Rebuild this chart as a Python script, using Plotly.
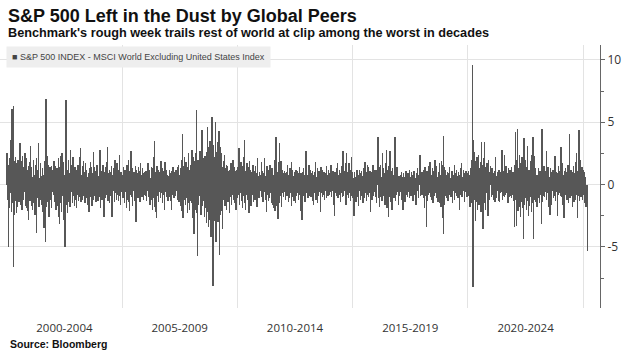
import plotly.graph_objects as go
import pandas as pd

# Weekly difference (pct pts): S&P 500 INDEX minus MSCI World ex-US, week ending Fridays
w2000 = [2.5, -1.2, 0.8, -5.0, 1.6, -1.9, 2.1, -0.7, 1.2, 3.6, -2.2, 6.1, -1.5, 2.4, -6.6, 6.3, -2.4, 1.9, -1.3, 2.2, 0.9, -2.3, 1.7, -1.1, -1.8, 2.0, 0.6, -1.4, 1.3, 3.3, -1.6, 0.9, -0.8, 1.9, -2.0, 2.3, -1.2, 1.4, -0.6, 1.1, 2.5, -1.7, 0.7, 2.1, -1.9, 1.2, -2.1, 0.8, -2.8, 1.5, -1.0, 1.8]
w2001 = [-1.3, 3.1, -0.9, 1.4, -1.7, 0.6, -2.0, 2.0, 1.1, -1.5, 0.8, -2.4, 1.6, -0.7, 2.1, -3.9, 1.2, -1.1, 0.9, 3.3, -1.8, 0.5, -1.2, 1.7, 1.5, -0.9, 0.7, -1.6, 1.3, -2.2, 0.8, -3.5, 1.9, -1.0, 0.6, -4.6, 6.9, -1.8, 2.3, -1.4, 1.1, -0.8, 1.6, -2.6, 0.9, 1.4, -1.2, 0.7, 1.5, -1.9, 1.1, -0.6]
w2002 = [1.2, -0.8, 1.9, -1.4, 0.7, -1.1, 1.5, -2.0, 0.9, 1.3, -1.7, 0.6, 2.1, -2.6, 1.0, -3.2, 1.4, -1.5, 2.3, -2.2, 2.5, -0.9, 1.8, -2.8, 1.1, -1.9, 0.8, -5.0, 2.4, 6.8, -1.6, 1.7, -2.3, 1.2, -0.7, 2.0, -1.4, 0.9, -1.8, 2.8, -1.1, 1.6, -0.6, 1.3, -1.5, 2.2, -0.9, 1.0, -1.7, 0.8, 1.4, -1.2]
w2003 = [0.9, -1.9, 1.2, -0.8, 1.6, -1.3, 0.6, 1.1, -1.0, 2.2, 2.9, -1.4, 0.8, -0.6, 1.5, -1.2, 0.7, 1.9, -0.9, 1.0, -1.5, 0.5, 1.7, -0.7, 1.2, -1.1, 0.6, -1.6, 0.9, -2.2, 1.3, -0.8, 1.8, -1.0, 0.7, 1.4, -1.7, 0.9, -0.5, 2.6, -1.2, 0.8, 1.4, -0.9, 1.1, -1.4, 0.6, 1.6, -0.8, 1.0, -1.3, 0.7]
w2004 = [-1.0, 1.3, 2.8, -1.9, 0.8, -0.6, 1.1, -1.2, 0.7, 1.6, -0.9, -2.6, 1.0, -0.7, 1.4, -1.1, 0.6, 1.8, -0.8, 3.05, -1.3, 0.9, -0.6, 1.2, -1.5, 0.7, 1.0, -0.9, 1.5, -2.6, 0.8, -1.0, 1.3, -0.5, 0.9, -1.4, 2.0, -0.7, 1.1, -1.2, 0.6, 1.7, -0.8, 0.5, -1.3, 1.2, 2.4, -0.9, 0.7, -1.6, 1.0, -0.6]
w2005 = [0.8, -1.1, 1.4, -0.7, 0.9, -1.5, 1.2, -0.6, 0.7, -1.9, 1.6, -1.2, 0.5, 2.0, -1.4, 0.9, -2.1, 1.1, -0.8, 2.7, -1.0, 0.6, 1.3, -1.7, 0.8, -0.5, 1.0, -1.3, 0.7, 1.5, -0.9, -3.0, 1.2, -0.6, 0.9, -1.1, 1.4, -0.8, 0.5, 1.1, -1.4, 1.7, -0.7, 0.8, -1.0, 1.3, -0.5, 0.9, -1.2, 0.6, 1.0, -0.8]
w2006 = [-0.9, 1.1, 0.6, -1.3, 0.8, -0.5, 1.7, -1.0, 0.7, 1.2, -1.6, 0.5, -0.8, 1.4, -1.2, 0.9, -2.0, 1.3, -1.1, 2.2, 3.5, -1.8, 1.0, -2.2, 0.8, -2.7, 1.5, -0.9, 0.6, 1.2, -1.4, 0.7, -0.6, 1.0, -1.1, 1.9, -0.7, 0.5, 1.3, -1.5, 0.9, -0.8, 1.1, -2.0, 1.8, -0.6, 0.7, -1.0, 1.2, -0.5, 0.8, -1.3]
w2007 = [0.7, -1.0, 1.2, -0.6, 0.9, -1.3, 0.5, -2.0, 1.1, -0.8, 1.4, -0.7, 0.8, -1.1, 0.6, 1.0, -0.9, 1.2, -0.5, 0.9, -1.2, 1.4, -0.7, 1.6, -1.4, 0.8, -1.0, 1.3, -1.7, 2.0, -2.1, 1.1, 4.05, -2.7, 1.5, -1.2, 2.2, -0.9, 1.0, -1.6, 1.8, -1.1, 0.7, -2.3, 1.4, 2.5, -1.5, 1.2, -2.0, 0.9, -1.3, 1.6]
w2008 = [-1.5, 2.8, -2.7, 1.6, -1.2, 2.2, -4.0, 1.9, -1.4, 2.5, -2.0, 1.3, 5.95, -2.3, -5.7, 2.0, -1.6, 1.1, -0.9, 2.7, -1.8, 1.2, -2.4, 1.5, 4.4, -1.7, 2.1, -1.3, 1.7, -2.6, 0.9, 2.3, -1.9, 1.4, -3.1, 2.6, 4.6, -2.2, 3.0, -3.4, 2.1, -2.8, 3.5, -1.6, -4.2, 2.4, -3.0, 5.4, -2.5, -8.1, 3.2, -2.0]
w2009 = [2.2, -2.9, 3.1, 5.0, -4.6, 2.6, -1.9, 3.4, -3.0, 1.8, 4.3, -5.65, 2.0, -2.4, 3.0, -1.5, 2.5, -2.1, 1.4, -3.6, 1.9, -1.2, 1.0, 2.4, -1.7, 1.3, -0.9, 1.6, -2.0, 0.8, 1.5, -1.4, 1.1, -0.7, -2.3, 1.2, -1.0, 0.9, 1.7, -1.6, 1.3, -0.8, 2.0, -1.2, 0.7, -1.5, 1.4, -0.9, 1.1, -2.0, 0.8, 1.2]
w2010 = [-1.1, 1.4, -0.8, 0.9, 2.9, -1.6, 1.2, -0.7, 1.8, -1.3, 0.6, 1.5, -1.9, 1.0, -0.9, 2.2, 3.6, -1.5, 1.1, -2.0, 1.3, -0.8, 1.7, -1.2, 0.9, 1.4, -2.3, 0.7, 1.9, -1.0, 1.2, -1.7, 0.6, 1.0, -0.8, 1.6, -1.4, 0.8, -0.6, 1.1, -1.2, 1.5, -0.7, 0.9, -1.8, 1.3, 2.1, -0.9, 0.7, -1.1, 1.0, -0.5]
w2011 = [0.8, -1.0, 1.8, -0.7, 1.1, -1.4, 0.9, -0.6, 1.3, 2.1, -1.2, 0.7, -0.9, -2.2, 1.5, -0.8, 1.0, -1.3, 0.6, 1.2, -1.1, 1.6, -0.7, 0.9, -1.5, 1.3, -0.8, 1.1, -1.6, 0.8, -1.9, 2.0, -2.1, 1.4, 3.85, -1.7, 2.2, -1.3, 1.0, -2.75, 1.8, -1.2, 3.3, -1.5, 1.4, -0.9, 1.9, -1.8, 1.2, -0.7, 0.9, -1.0]
w2012 = [-0.8, 1.1, -0.6, 0.9, -1.2, 0.7, 1.0, -0.9, 1.6, -0.5, 0.8, -1.4, 0.6, -1.1, 1.3, -0.7, 0.9, -1.7, 1.8, -0.8, 1.2, -1.0, 0.7, -1.3, 1.0, -0.6, 0.8, -1.5, 1.2, -0.9, 0.6, 1.1, -0.7, 0.9, -1.2, 1.4, -0.8, 0.5, -2.1, 0.9, -0.6, -2.8, 1.0, -1.1, 0.7, 1.3, -0.9, 0.8, -1.4, 1.1, 2.7, -0.7]
w2013 = [1.0, -0.7, 0.8, -1.1, 0.6, 1.6, -0.9, 0.7, -0.5, 1.2, -1.0, 0.9, -0.6, 1.1, -1.3, -1.6, 0.8, -0.7, 1.0, -0.4, 1.8, -1.2, 0.6, -0.8, 1.3, -1.5, 0.7, -0.9, 1.1, -0.6, 0.9, -2.2, 1.4, -0.7, 0.5, -1.0, 1.2, -0.8, 0.6, 1.0, -1.2, 0.7, -0.5, 0.9, -1.1, 1.5, -0.6, 0.8, -0.9, 1.2, -0.7, 0.6]
w2014 = [-0.8, 0.9, -0.6, 1.6, -1.0, 0.7, -0.5, 1.1, -1.3, 0.8, -1.6, -2.5, 1.0, -0.7, 0.6, 1.3, -0.9, 0.5, 1.7, -1.1, 0.8, -0.6, 1.2, -0.8, 0.9, -1.4, 1.5, -0.7, 0.6, -1.0, 2.7, -0.9, 1.1, -0.5, 0.8, -1.2, 1.7, -1.6, 2.5, -0.8, 1.0, -0.6, 1.4, -1.1, 1.7, -0.7, 0.9, -1.3, 1.2, 2.2, -0.9, 1.0]
w2015 = [0.7, -1.1, 0.5, -2.5, 1.0, -0.8, 0.6, -1.4, 0.9, -0.6, 1.2, -1.0, 0.7, -1.7, 0.8, 1.2, -0.5, 0.9, -1.2, 0.6, 1.1, -0.9, 0.7, -1.5, 1.3, -0.6, 0.8, -1.1, 1.8, -0.7, 1.0, -1.3, 0.5, 1.6, -0.8, 1.4, -1.0, 0.6, -0.7, 1.1, -2.2, 0.9, -0.5, 1.0, -1.2, 0.7, 1.6, -0.9, 0.8, -0.6, 1.2, -1.0]
w2016 = [-0.9, 1.2, -1.5, 0.8, 1.0, 3.85, -1.1, 0.7, -1.8, 1.4, -0.8, 1.6, -1.0, 0.6, -1.3, 1.1, 2.5, -0.9, 1.3, -0.7, 0.9, -1.6, 1.7, -1.2, 1.0, 2.8, -1.9, 1.2, -0.8, -2.6, 1.5, -1.0, 2.7, -0.6, 0.9, -1.4, 1.1, -2.0, 1.3, -0.7, 0.8, -1.1, 1.6, -0.9, 3.8, -1.3, 1.0, -0.8, 1.4, -0.6, 0.9, -1.6]
w2017 = [0.7, -0.9, 0.5, -0.6, 0.8, 1.0, -1.2, 0.6, -0.5, -2.0, 0.9, -0.7, 0.6, -1.4, 0.8, -0.5, 1.1, -0.8, 0.7, -1.0, 0.9, -0.6, 0.5, -1.1, 1.2, -0.7, 0.6, -0.9, 1.0, -0.5, 0.8, -1.3, 0.7, -0.6, 1.1, -0.8, 0.5, -1.0, -1.6, 0.9, -0.7, 1.3, -0.5, 0.8, -1.1, 0.6, 1.5, 2.4, -0.9, 0.7, -0.6, 1.0]
w2018 = [-0.8, 1.0, -0.6, 1.2, -1.1, 0.7, -1.9, 1.4, -0.9, 0.8, -3.4, 1.1, -1.3, 0.6, -0.8, 1.5, -0.7, 0.9, 1.8, -1.0, 0.5, -1.2, 0.8, -0.6, 1.3, -1.5, 0.7, 1.1, -0.9, 2.0, -0.7, 0.9, -1.1, 1.5, -0.8, 0.6, -1.4, 1.0, -0.6, -1.5, 1.7, -1.0, 0.8, -1.8, 1.9, -1.2, 1.6, -2.7, 3.9, -4.0, 1.4, -1.6]
w2019 = [1.2, -0.9, 0.7, -1.1, 0.8, -0.6, 1.0, -1.3, 0.6, 0.9, 1.4, -0.8, 0.5, -1.0, 0.9, -0.7, 1.1, -1.5, 0.6, -0.5, 0.8, -1.2, 1.6, -0.7, 0.9, -0.6, 1.2, -0.9, 0.7, -1.1, 0.5, 1.0, -2.0, 0.8, -0.6, 1.3, -0.8, 1.7, -1.0, 0.6, -0.7, 1.2, -0.5, 0.8, -1.4, 0.9, -0.6, 1.1, -0.8, 0.7, -1.0, 0.9]
w2020 = [-0.9, 1.1, -0.7, 0.8, -1.8, 1.3, -0.6, 1.0, -1.5, 2.0, 9.6, -8.2, 3.6, -1.7, 2.6, -1.2, 1.5, -2.9, 1.9, -1.4, 2.2, -2.0, 1.1, -0.8, 2.4, -1.6, 1.3, -1.0, 1.8, -2.2, 3.4, -1.3, 1.6, -0.9, -3.6, 2.1, -1.5, 3.4, -1.1, 1.4, -2.0, 1.2, -0.7, 1.7, -1.4, -2.5, 2.0, -0.8, 1.0, -1.2, 0.8, 1.5]
w2021 = [0.7, -1.0, 1.3, -0.8, 0.6, -1.2, 0.9, -0.6, 1.1, -1.4, 2.2, -0.9, 0.7, -1.1, 1.0, -0.5, 0.8, -1.3, 1.2, -1.4, 0.9, -0.7, 1.0, -0.6, 1.8, 2.8, -1.2, 0.8, -0.9, 1.1, 2.4, -1.0, 0.6, -0.8, 1.5, -0.7, 0.9, -1.2, -1.5, 1.3, -0.6, 0.8, -1.0, 1.2, -0.9, 0.7, 1.4, -1.1, 0.6, -0.8, 1.0, -1.3]
w2022 = [-3.4, 1.6, 4.2, -1.2, -3.3, 2.0, -1.5, 4.45, -2.1, 1.3, -1.8, 2.4, -0.9, 1.7, -2.6, 1.1, -1.4, 2.2, -1.9, 1.0, -4.4, 1.5, 3.7, -1.6, 2.0, -1.1, 1.4, -2.0, 0.9, 1.8, 3.1, -1.3, -2.5, 1.2, -1.7, 0.8, 1.9, -1.0, 2.4, -2.2, 1.1, -1.5, 3.8, -4.4, 1.6, -1.2, 2.3, -0.9, 1.3, -1.4, 0.8, -1.8]
w2023 = [0.8, -1.1, 1.3, -0.7, 0.9, -1.5, 1.1, -0.8, 0.6, -3.2, 4.45, -1.4, 1.2, -0.9, 0.7, 1.5, -1.0, 0.8, -0.6, 1.1, 2.7, -1.2, 0.9, -0.7, 1.4, -1.8, 0.6, -0.9, -2.4, 1.3, -0.8, 1.0, -1.6, 0.7, -0.5, 1.2, -1.1, 0.8, 1.6, -0.9, 2.3, -1.3, 1.0, -0.6, 0.9, -1.4, -2.5, 1.5, -0.8, 1.1, -0.7, 0.9]
w2024 = [-0.9, 3.0, -1.0, 0.7, 1.7, -1.6, 0.8, -0.6, -2.7, 1.1, -0.8, 1.3, -0.5, 0.9, 1.0, -1.2, 0.6, 1.6, -1.5, 0.8, -0.7, 4.1, -1.1, 0.6, 1.2, -0.9, 0.7, -1.8, 1.0, -0.6, 1.5, -1.4, 0.9, -1.2, 1.8, -0.8, 0.6, 2.5, -2.7, 1.1, -0.9, 1.7, 4.4, -1.3, 2.0, -0.8, 1.2, -1.0, 0.7, 1.4, -1.2, 0.9]
w2025 = [1.2, -0.8, 1.0, -1.2, -1.5, 0.6, -1.8, -1.4, -1.6, -5.3]

years = list(range(2000, 2026))
weekly = [w2000, w2001, w2002, w2003, w2004, w2005, w2006, w2007, w2008, w2009,
          w2010, w2011, w2012, w2013, w2014, w2015, w2016, w2017, w2018, w2019,
          w2020, w2021, w2022, w2023, w2024, w2025]

period_labels = ["2000-2004", "2005-2009", "2010-2014", "2015-2019", "2020-2024"]
period_mids = ["2002-07-02", "2007-07-02", "2012-07-02", "2017-07-02", "2022-07-02"]
period_bounds = ["2005-01-01", "2010-01-01", "2015-01-01", "2020-01-01", "2025-01-01"]

dates, vals = [], []
for y, s in zip(years, weekly):
    d = pd.date_range(f"{y}-01-01", periods=len(s), freq="W-FRI")
    dates.extend(d)
    vals.extend(s)

BAR = "#575757"
fig = go.Figure(go.Bar(x=dates, y=vals, marker=dict(color=BAR, line=dict(width=0)),
                       width=7 * 24 * 3600 * 1000 * 0.9,
                       name="S&P 500 INDEX - MSCI World Excluding United States Index"))

PLOT_T, PLOT_B, PLOT_R = 45, 308, 600
W, H = 628, 354

def py(p):
    return (PLOT_B - p) / (PLOT_B - PLOT_T)

def px(p):
    return p / PLOT_R

GRID = "#e3e3e3"
fig.update_layout(
    width=W, height=H,
    margin=dict(l=0, r=W - PLOT_R, t=PLOT_T, b=H - PLOT_B),
    paper_bgcolor="white", plot_bgcolor="white",
    bargap=0, showlegend=False,
    font=dict(family="Liberation Sans, Arial, sans-serif", color="#333"),
    xaxis=dict(
        type="date", range=["1999-09-16", "2025-09-23"],
        tickmode="array", tickvals=period_mids, ticktext=period_labels,
        showgrid=False, zeroline=False, showline=False, ticks="",
        tickfont=dict(size=11.5, color="#333", family="Open Sans, sans-serif"),
        ticklabelstandoff=11,
        minor=dict(tickmode="array", tickvals=period_bounds, showgrid=True,
                   gridcolor=GRID, gridwidth=1, ticks=""),
    ),
    yaxis=dict(
        side="right", range=[-9.9, 11.2],
        tickmode="array", tickvals=[-5, 0, 5, 10], ticktext=["-5", "0", "5", "10"],
        showgrid=True, gridcolor=GRID, zeroline=False,
        showline=True, linecolor="#666", linewidth=1,
        ticks="outside", ticklen=4, tickcolor="#666",
        tickfont=dict(size=12, color="#333", family="Open Sans, sans-serif"),
        ticklabelstandoff=0,
        minor=dict(tickmode="array", tickvals=[-7.5, -2.5, 2.5, 7.5], ticks="outside",
                   ticklen=3, tickcolor="#666", showgrid=False),
    ),
)

fig.add_annotation(text="<b>S&P 500 Left in the Dust by Global Peers</b>",
                   xref="paper", yref="paper", x=px(6), y=py(16), xanchor="left", yanchor="middle",
                   showarrow=False, font=dict(size=18, color="#111", family="Liberation Sans, Arial, sans-serif"))
fig.add_annotation(text="<b>Benchmark's rough week trails rest of world at clip among the worst in decades</b>",
                   xref="paper", yref="paper", x=px(6), y=py(33), xanchor="left", yanchor="middle",
                   showarrow=False, font=dict(size=12.7, color="#111", family="Liberation Sans, Arial, sans-serif"))
fig.add_annotation(text="<span style='color:#444'>■</span> S&P 500 INDEX - MSCI World Excluding United States Index",
                   xref="paper", yref="paper", x=px(6), y=py(57), xanchor="left", yanchor="middle",
                   showarrow=False, bgcolor="#eeeeee", borderpad=5,
                   font=dict(size=9, color="#444", family="Liberation Sans Narrow, Liberation Sans, Arial, sans-serif"))
fig.add_annotation(text="<b>Source: Bloomberg</b>",
                   xref="paper", yref="paper", x=px(8), y=py(344), xanchor="left", yanchor="middle",
                   showarrow=False, font=dict(size=10.5, color="#111", family="Liberation Sans, Arial, sans-serif"))

fig.write_html("out.html")
